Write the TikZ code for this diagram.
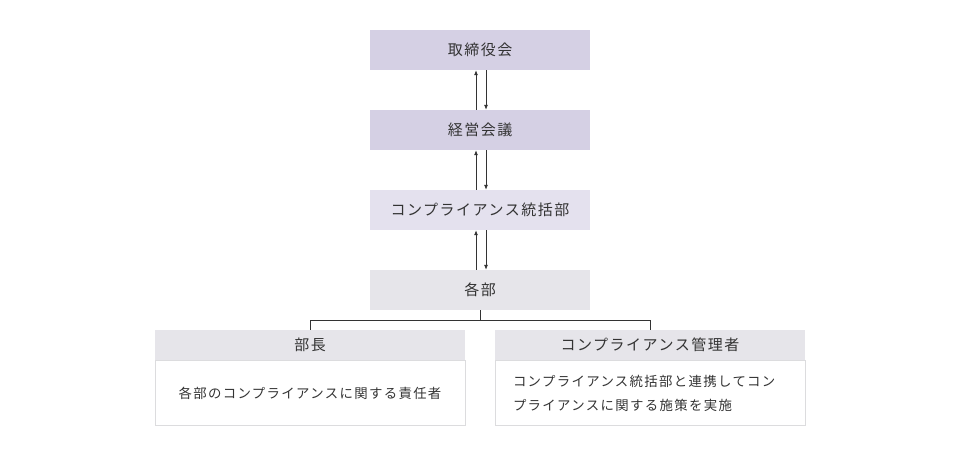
\documentclass[tikz,border=0pt]{standalone}
\usepackage{fontspec}
\setmainfont{Noto Sans CJK JP}
\newfontfamily\jpfont[LetterSpace=10]{Noto Sans CJK JP}
\usetikzlibrary{arrows.meta}
\definecolor{boardface}{HTML}{D5D0E4}
\definecolor{unitface}{HTML}{E4E1EE}
\definecolor{deptface}{HTML}{E6E5EA}
\definecolor{cardedge}{HTML}{DCDCDE}
\definecolor{inkgray}{HTML}{333333}

\begin{document}
\begin{tikzpicture}[
  x=1pt,
  y=-1pt,
  font=\jpfont\fontsize{15}{18}\selectfont,
  text=inkgray,
  level/.style={minimum width=220pt,minimum height=40pt,inner sep=0pt},
  head/.style={minimum width=310pt,minimum height=30pt,inner sep=0pt,fill=deptface},
  card/.style={minimum width=310pt,minimum height=65pt,inner sep=0pt,draw=cardedge,line width=0.8pt,font=\jpfont\fontsize{13.4}{24}\selectfont},
  link/.style={draw=inkgray,line width=0.8pt,-{Latex[length=5pt,width=4pt]}},
  tree/.style={draw=inkgray,line width=0.8pt}
]
  \useasboundingbox (0,0) rectangle (960,456);

  % Reporting chain, top to bottom.
  \node[level,fill=boardface] (board) at (480,50) {取締役会};
  \node[level,fill=boardface] (council) at (480,130) {経営会議};
  \node[level,fill=unitface] (compdiv) at (480,210) {コンプライアンス統括部};
  \node[level,fill=deptface] (depts) at (480,290) {各部};

  % Report upward on the left, instruct downward on the right.
  \foreach \child/\parent in {council/board,compdiv/council,depts/compdiv} {
    \draw[link] ([xshift=-4pt]\child.north) -- ([xshift=-4pt]\parent.south);
    \draw[link] ([xshift=6pt]\parent.south) -- ([xshift=6pt]\child.north);
  }

  % Roles inside each department.
  \node[head] (chiefhead) at (310,345) {部長};
  \node[card,anchor=north] (chiefcard) at (chiefhead.south) {各部のコンプライアンスに関する責任者};
  \node[head] (officerhead) at (650,345) {コンプライアンス管理者};
  \node[card,anchor=north,text width=274pt,align=left] (officercard) at (officerhead.south)
    {コンプライアンス統括部と連携してコン\\プライアンスに関する施策を実施};

  \draw[tree] (depts.south) -- ++(0,10) coordinate (fork);
  \draw[tree] (fork) -| (chiefhead.north);
  \draw[tree] (fork) -| (officerhead.north);
\end{tikzpicture}
\end{document}
